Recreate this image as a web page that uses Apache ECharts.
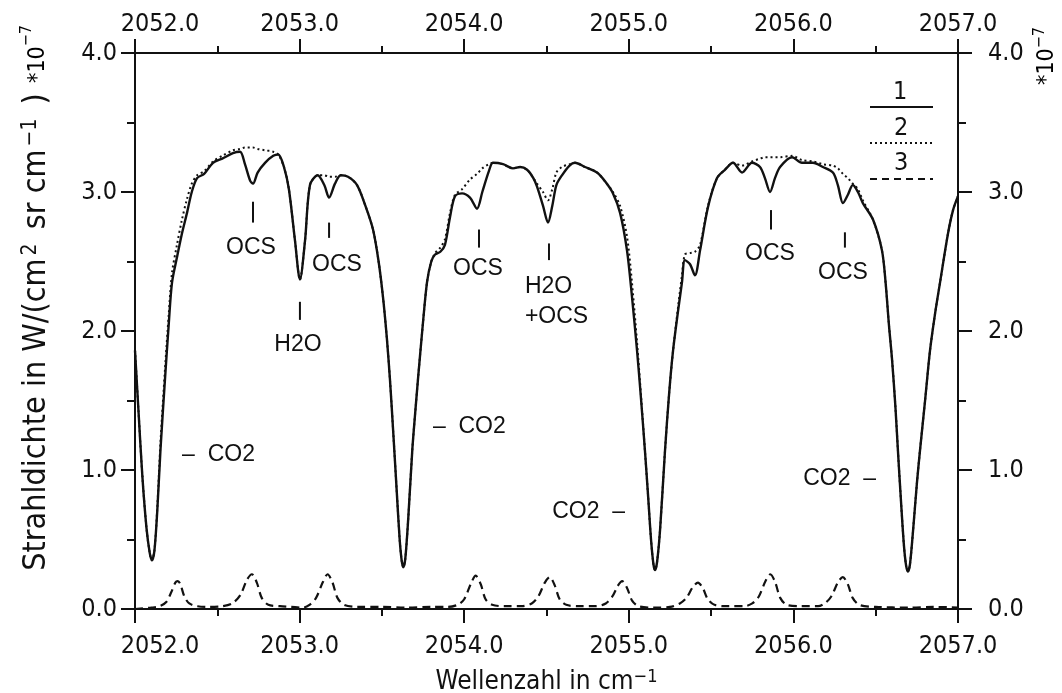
<!DOCTYPE html>
<html>
<head>
<meta charset="utf-8">
<script src="https://cdn.jsdelivr.net/npm/echarts@6/dist/echarts.min.js"></script>
<style>
html,body{margin:0;padding:0;background:#fff;}
#chart{width:1062px;height:693px;}
</style>
</head>
<body>
<div id="chart"></div>
<script>
// ---------- data ----------
const xTicks = [2052, 2053, 2054, 2055, 2056, 2057];
const yTicks = [0, 1, 2, 3, 4];

// wavenumber grid for measured (1) and model (2) spectra
const specX = [
2052.000,2052.020,2052.045,2052.070,2052.090,2052.103,2052.118,2052.135,2052.155,2052.182,
2052.205,2052.225,2052.255,2052.285,2052.316,2052.345,2052.377,2052.420,2052.474,2052.530,
2052.595,2052.638,2052.668,2052.700,2052.717,2052.745,2052.790,2052.840,2052.870,2052.905,
2052.935,2052.972,2053.002,2053.033,2053.063,2053.110,2053.150,2053.179,2053.215,2053.250,
2053.294,2053.349,2053.400,2053.446,2053.480,2053.507,2053.530,2053.549,2053.570,2053.590,
2053.608,2053.620,2053.630,2053.642,2053.660,2053.685,2053.705,2053.719,2053.745,2053.774,
2053.800,2053.823,2053.855,2053.883,2053.914,2053.944,2053.987,2054.035,2054.078,2054.110,
2054.150,2054.175,2054.236,2054.296,2054.340,2054.382,2054.420,2054.442,2054.479,2054.509,
2054.535,2054.560,2054.594,2054.640,2054.673,2054.734,2054.807,2054.860,2054.904,2054.947,
2054.989,2055.019,2055.050,2055.075,2055.098,2055.118,2055.135,2055.150,2055.160,2055.172,
2055.190,2055.220,2055.245,2055.269,2055.300,2055.323,2055.341,2055.372,2055.402,2055.433,
2055.481,2055.536,2055.584,2055.633,2055.688,2055.748,2055.797,2055.827,2055.858,2055.888,
2055.919,2055.992,2056.052,2056.119,2056.179,2056.240,2056.270,2056.301,2056.331,2056.361,
2056.392,2056.422,2056.484,2056.538,2056.560,2056.580,2056.599,2056.620,2056.635,2056.655,
2056.672,2056.685,2056.696,2056.708,2056.726,2056.750,2056.769,2056.800,2056.830,2056.860,
2056.891,2056.939,2056.970,2057.000
];
// curve 1 (solid), units 1e-7 W/(cm2 sr cm-1)
const curve1 = [
1.86,1.45,0.95,0.58,0.40,0.35,0.42,0.70,1.15,1.65,
2.05,2.35,2.53,2.70,2.85,3.00,3.10,3.13,3.21,3.24,
3.28,3.29,3.20,3.08,3.06,3.14,3.21,3.26,3.27,3.18,
3.02,2.65,2.37,2.65,3.05,3.12,3.05,2.96,3.06,3.12,
3.11,3.05,2.90,2.73,2.50,2.24,1.95,1.65,1.25,0.85,
0.50,0.35,0.30,0.36,0.65,1.15,1.45,1.65,2.00,2.35,
2.50,2.55,2.57,2.62,2.82,2.97,2.99,2.96,2.88,3.00,
3.15,3.21,3.20,3.17,3.18,3.16,3.10,3.04,2.90,2.78,
2.90,3.05,3.12,3.19,3.21,3.18,3.14,3.07,2.99,2.85,
2.58,2.25,1.86,1.50,1.14,0.80,0.50,0.32,0.28,0.34,
0.57,1.14,1.55,1.86,2.15,2.35,2.51,2.48,2.40,2.58,
2.89,3.10,3.16,3.21,3.14,3.21,3.18,3.10,3.00,3.10,
3.18,3.25,3.21,3.21,3.18,3.14,3.05,2.92,2.98,3.05,
3.00,2.92,2.80,2.58,2.35,2.05,1.80,1.45,1.14,0.75,
0.45,0.31,0.27,0.32,0.55,0.90,1.14,1.50,1.86,2.12,
2.35,2.70,2.87,2.97
];
// curve 2 (dotted)
const curve2 = [
1.86,1.45,0.95,0.58,0.40,0.35,0.42,0.72,1.20,1.72,
2.12,2.42,2.62,2.80,2.95,3.06,3.12,3.15,3.22,3.26,
3.30,3.31,3.32,3.32,3.32,3.31,3.30,3.29,3.27,3.18,
3.02,2.65,2.37,2.65,3.05,3.12,3.12,3.11,3.11,3.12,
3.11,3.05,2.90,2.73,2.50,2.24,1.95,1.65,1.25,0.85,
0.50,0.35,0.30,0.36,0.65,1.15,1.45,1.65,2.00,2.35,
2.50,2.56,2.60,2.66,2.85,2.98,3.02,3.09,3.13,3.17,
3.20,3.21,3.20,3.17,3.18,3.16,3.10,3.06,3.00,2.94,
3.02,3.14,3.18,3.20,3.21,3.18,3.14,3.07,3.00,2.90,
2.68,2.35,1.92,1.52,1.14,0.80,0.50,0.32,0.28,0.34,
0.57,1.14,1.55,1.86,2.18,2.40,2.55,2.56,2.57,2.62,
2.90,3.10,3.16,3.21,3.19,3.22,3.24,3.25,3.25,3.25,
3.25,3.26,3.23,3.22,3.20,3.19,3.17,3.13,3.10,3.06,
3.02,2.94,2.80,2.58,2.35,2.05,1.80,1.45,1.14,0.75,
0.45,0.31,0.27,0.32,0.55,0.90,1.14,1.50,1.86,2.12,
2.35,2.70,2.87,2.97
];
// curve 3 (dashed)
const curve3X = [
2052.00,2052.10,2052.15,2052.19,2052.22,2052.245,2052.26,2052.275,2052.30,2052.33,
2052.38,2052.45,2052.53,2052.59,2052.64,2052.68,2052.71,2052.74,2052.77,2052.81,
2052.88,2052.95,2053.02,2053.06,2053.10,2053.14,2053.17,2053.20,2053.23,2053.27,
2053.35,2053.50,2053.65,2053.80,2053.90,2053.96,2054.00,2054.04,2054.07,2054.10,
2054.13,2054.17,2054.25,2054.35,2054.41,2054.45,2054.49,2054.52,2054.55,2054.58,
2054.62,2054.70,2054.80,2054.86,2054.90,2054.935,2054.96,2054.99,2055.02,2055.06,
2055.15,2055.25,2055.31,2055.35,2055.39,2055.42,2055.45,2055.48,2055.52,2055.60,
2055.70,2055.75,2055.79,2055.83,2055.86,2055.89,2055.92,2055.96,2056.05,2056.15,
2056.19,2056.23,2056.27,2056.30,2056.33,2056.36,2056.40,2056.50,2056.70,2056.85,
2057.00
];
const curve3 = [
0.00,0.01,0.02,0.05,0.12,0.19,0.20,0.18,0.09,0.04,
0.02,0.015,0.02,0.04,0.10,0.21,0.25,0.19,0.08,0.03,
0.02,0.015,0.01,0.03,0.08,0.19,0.25,0.19,0.08,0.03,
0.015,0.015,0.01,0.015,0.015,0.03,0.07,0.18,0.24,0.18,
0.07,0.03,0.02,0.02,0.04,0.09,0.19,0.23,0.17,0.07,
0.03,0.02,0.02,0.04,0.09,0.17,0.20,0.15,0.06,0.02,
0.01,0.015,0.04,0.08,0.16,0.19,0.15,0.07,0.03,0.02,
0.02,0.04,0.09,0.20,0.25,0.19,0.08,0.03,0.02,0.02,
0.04,0.09,0.19,0.23,0.18,0.08,0.03,0.015,0.01,0.015,
0.01
];

// annotations (text at data positions)
const annoText  = ['OCS','H2O','OCS','OCS','H2O','+OCS','OCS','OCS','–  CO2','–  CO2','CO2  –','CO2  –'];
const annoX     = [2052.705,2052.990,2053.227,2054.084,2054.369,2054.369,2055.858,2056.301,2052.286,2053.810,2054.977,2056.502];
const annoY     = [2.60,1.90,2.48,2.45,2.32,2.10,2.56,2.42,1.11,1.31,0.70,0.94];
const annoAlign = ['center','center','center','center','left','left','center','center','left','left','right','right'];
// small vertical marker strokes
const markX  = [2052.717,2053.002,2053.179,2054.090,2054.515,2055.864,2056.313];
const markY1 = [2.93,2.21,2.78,2.73,2.63,2.87,2.71];
const markY2 = [2.78,2.08,2.67,2.60,2.51,2.73,2.60];

// ---------- chart ----------
const NUMF = '"Liberation Sans Narrow","DejaVu Sans Condensed","Liberation Sans",sans-serif';
const TXTF = '"Liberation Sans","Arial",sans-serif';
const INK = '#111';

const pair = (xs, ys) => xs.map((x, i) => [x, ys[i]]);

const chart = echarts.init(document.getElementById('chart'), null, {renderer: 'canvas'});

function xFmt(v) { return v === 2052 ? '{f|' + v.toFixed(1) + '}' : v.toFixed(1); }
const xLabelBase = {color: INK, fontSize: 25, fontFamily: NUMF, formatter: xFmt,
  rich: {f: {padding: [0, 0, 0, 50], fontSize: 25, fontFamily: NUMF, color: INK}}};

const axisCommonX = {
  type: 'value', min: xTicks[0], max: xTicks[xTicks.length - 1], interval: 1,
  axisLine: {show: true, onZero: false, lineStyle: {color: INK, width: 2}},
  axisTick: {show: true, inside: false, length: 14, lineStyle: {color: INK, width: 2}},
  minorTick: {show: true, splitNumber: 2, length: 7, lineStyle: {color: INK, width: 2}},
  splitLine: {show: false}
};
const axisCommonY = {
  type: 'value', min: yTicks[0], max: yTicks[yTicks.length - 1], interval: 1,
  axisLine: {show: true, onZero: false, lineStyle: {color: INK, width: 2}},
  axisTick: {show: true, inside: false, length: 14, lineStyle: {color: INK, width: 2}},
  minorTick: {show: true, splitNumber: 2, length: 8, lineStyle: {color: INK, width: 2}},
  splitLine: {show: false}
};

const titleRich = {
  b: {fontSize: 32, fontFamily: NUMF, color: INK},
  e: {fontSize: 32, fontFamily: NUMF, color: INK, padding: [0, 2, 0, 0]},
  s: {fontSize: 21, fontFamily: NUMF, color: INK, verticalAlign: 'top', padding: [0, 5, 12, 3]}
};
const xTitleRich = {
  b: {fontSize: 26, fontFamily: NUMF, color: INK},
  s: {fontSize: 18, fontFamily: NUMF, color: INK, verticalAlign: 'top', padding: [0, 0, 10, 0]}
};
const expRichL = {
  b: {fontSize: 23, fontFamily: NUMF, color: INK},
  s: {fontSize: 16, fontFamily: NUMF, color: INK, verticalAlign: 'top', padding: [0, 0, 22, 0]}
};
const expRichR = {
  b: {fontSize: 23, fontFamily: NUMF, color: INK},
  s: {fontSize: 16, fontFamily: NUMF, color: INK, verticalAlign: 'top', padding: [0, 0, 14, 0]}
};

const option = {
  animation: false,
  backgroundColor: '#fff',
  grid: {left: 135, right: 104, top: 53, bottom: 84, containLabel: false, outerBoundsMode: 'none'},
  xAxis: [
    Object.assign({}, axisCommonX, {position: 'bottom',
      axisLabel: Object.assign({}, xLabelBase, {margin: 25}),
      name: '{b|Wellenzahl in cm}{s|−1}', nameLocation: 'middle', nameGap: 59,
      nameTextStyle: {rich: xTitleRich}}),
    Object.assign({}, axisCommonX, {position: 'top',
      axisLabel: Object.assign({}, xLabelBase, {margin: 16})})
  ],
  yAxis: [
    Object.assign({}, axisCommonY, {position: 'left',
      axisLabel: {color: INK, fontSize: 25, fontFamily: NUMF, margin: 18, formatter: v => v.toFixed(1)},
      name: '{b|Strahldichte in W/(cm}{s|2}{b| sr cm}{s|−1}{e| )}', nameLocation: 'middle', nameGap: 82,
      nameTextStyle: {rich: titleRich}}),
    Object.assign({}, axisCommonY, {position: 'right',
      axisLabel: {color: INK, fontSize: 25, fontFamily: NUMF, margin: 30, formatter: v => v.toFixed(1)}})
  ],
  graphic: [
    {type: 'text', left: 19, top: 25, rotation: Math.PI / 2, style: {text: '{b|*10}{s|−7}', rich: expRichL}},
    {type: 'text', left: 1032, top: 27, rotation: Math.PI / 2, style: {text: '{b|*10}{s|−7}', rich: expRichR}},
    // legend
    {type: 'text', left: 893, top: 80, style: {text: '1', fontSize: 25, fontFamily: NUMF, fill: INK}},
    {type: 'line', shape: {x1: 870, y1: 107, x2: 933, y2: 107}, style: {stroke: INK, lineWidth: 2}},
    {type: 'text', left: 894, top: 116, style: {text: '2', fontSize: 25, fontFamily: NUMF, fill: INK}},
    {type: 'line', shape: {x1: 870, y1: 143, x2: 933, y2: 143}, style: {stroke: INK, lineWidth: 2, lineDash: [2, 3]}},
    {type: 'text', left: 894, top: 151, style: {text: '3', fontSize: 25, fontFamily: NUMF, fill: INK}},
    {type: 'line', shape: {x1: 870, y1: 179, x2: 933, y2: 179}, style: {stroke: INK, lineWidth: 2, lineDash: [7, 5]}}
  ],
  series: [
    {type: 'line', name: '1', data: pair(specX, curve1), showSymbol: false, smooth: 0.3,
      lineStyle: {color: INK, width: 2.4}, z: 5},
    {type: 'line', name: '2', data: pair(specX, curve2), showSymbol: false, smooth: 0.3,
      lineStyle: {color: INK, width: 2, type: [2, 3]}, z: 4},
    {type: 'line', name: '3', data: pair(curve3X, curve3), showSymbol: false, smooth: 0.3,
      lineStyle: {color: INK, width: 2.2, type: [8, 5]}, z: 4},
    {type: 'custom', name: 'labels', silent: true, clip: false, z: 6,
      data: annoX.map((x, i) => [x, annoY[i], i]),
      renderItem: function (params, api) {
        const i = api.value(2);
        const p = api.coord([api.value(0), api.value(1)]);
        return {type: 'text', x: p[0], y: p[1],
          style: {text: annoText[i], fill: INK, fontSize: 23, fontFamily: TXTF,
            align: annoAlign[i], verticalAlign: 'middle'}};
      }},
    {type: 'custom', name: 'marks', silent: true, clip: false, z: 6,
      data: markX.map((x, i) => [x, markY1[i], markY2[i]]),
      renderItem: function (params, api) {
        const a = api.coord([api.value(0), api.value(1)]);
        const b = api.coord([api.value(0), api.value(2)]);
        return {type: 'line', shape: {x1: a[0], y1: a[1], x2: b[0], y2: b[1]},
          style: {stroke: INK, lineWidth: 2}};
      }}
  ]
};
chart.setOption(option);
</script>
</body>
</html>
